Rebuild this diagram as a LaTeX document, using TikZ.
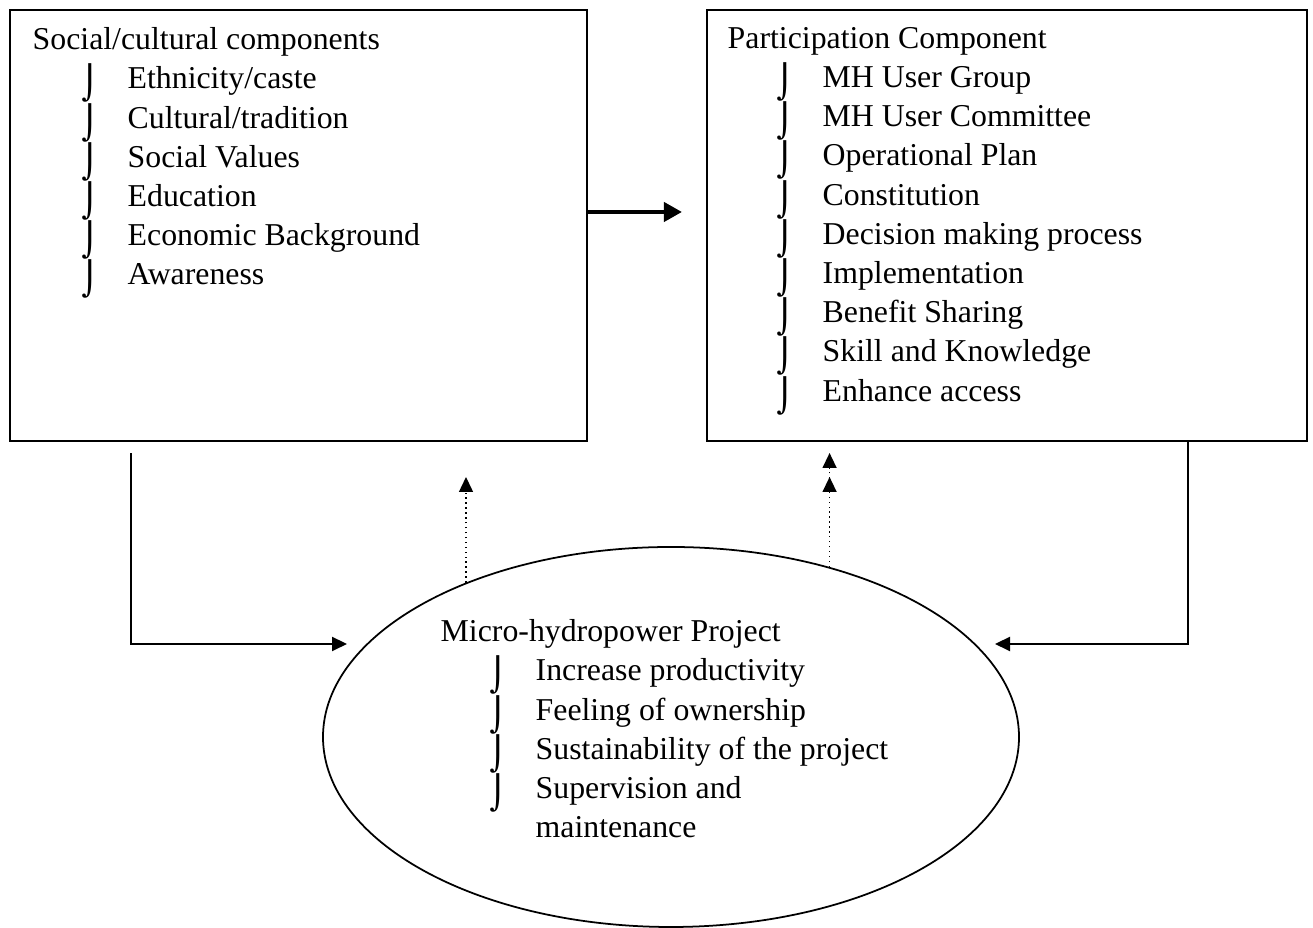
\documentclass[tikz,border=0pt]{standalone}
\usepackage{fontspec}
\setmainfont{Liberation Serif}
\newfontfamily\bulletfont{DejaVu Serif}
\usepackage{tikz}
\usetikzlibrary{positioning}
\usetikzlibrary{shapes.geometric}
\usetikzlibrary{arrows.meta}

% one list entry: indented hook bullet, then the text
\newcommand{\bul}[1]{\hspace*{0.49cm}\makebox[0.46cm][l]{\smash{\raisebox{-0.06cm}{\scalebox{1}[1.03]{\bulletfont ⌡}}}}#1}

\tikzset{
  panel/.style={draw, line width=0.6pt, inner sep=0pt},
  listtext/.style={align=left, inner sep=0pt, anchor=north west,
    font=\fontsize{9.05}{11.15}\selectfont},
  link/.style={line width=0.6pt, -{Triangle[length=0.15cm,width=0.14cm]}},
  feedback/.style={line width=0.4pt, densely dotted,
    -{Triangle[length=0.15cm,width=0.14cm]}},
  bigarrow/.style={line width=1.15pt, -{Triangle[length=0.18cm,width=0.19cm]}}
}

\begin{document}
\begin{tikzpicture}
  \useasboundingbox (0,0) rectangle (13.13,-9.28);

  % the two boxes and the project ellipse
  \node [panel, minimum width=5.77cm, minimum height=4.31cm] (social) at (2.985,-2.255) {};
  \node [panel, minimum width=6.00cm, minimum height=4.31cm] (part) at (10.07,-2.255) {};
  \node [draw, ellipse, line width=0.5pt, inner sep=0pt,
    minimum width=6.96cm, minimum height=3.80cm] (mhp) at (6.71,-7.37) {};

  % lists
  \node [listtext] (socialtxt) at (0.32,-0.27) {Social/cultural components\\
    \bul{Ethnicity/caste}\\
    \bul{Cultural/tradition}\\
    \bul{Social Values}\\
    \bul{Education}\\
    \bul{Economic Background}\\
    \bul{Awareness}};
  \node [listtext] (parttxt) at (7.27,-0.266) {Participation Component\\
    \bul{MH User Group}\\
    \bul{MH User Committee}\\
    \bul{Operational Plan}\\
    \bul{Constitution}\\
    \bul{Decision making process}\\
    \bul{Implementation}\\
    \bul{Benefit Sharing}\\
    \bul{Skill and Knowledge}\\
    \bul{Enhance access}};
  \node [listtext] (mhptxt) at (4.40,-6.19) {Micro-hydropower Project\\
    \bul{Increase productivity}\\
    \bul{Feeling of ownership}\\
    \bul{Sustainability of the project}\\
    \bul{Supervision and}\\
    \hspace*{0.95cm}maintenance};

  % free ends of the links
  \coordinate (inL) at (3.47,-6.44);
  \coordinate (inR) at (9.95,-6.44);
  \coordinate (upL) at (4.67,-4.77);
  \coordinate (upR) at (8.27,-4.53);

  % connectors
  \draw [bigarrow] ([yshift=0.135cm]social.east) -- ([yshift=0.135cm, xshift=-0.24cm]part.west);
  \draw [link] ([xshift=-1.675cm, yshift=-0.11cm]social.south) |- (inL);
  \draw [link] ([xshift=1.81cm]part.south) |- (inR);
  \draw [feedback] (mhp.143) -- (mhp.143 |- upL);
  \draw [feedback, -{Triangle[length=0.15cm,width=0.14cm,sep=0.09cm]Triangle[length=0.15cm,width=0.14cm]}]
    (mhp.47.5) -- (mhp.47.5 |- upR);
\end{tikzpicture}
\end{document}
